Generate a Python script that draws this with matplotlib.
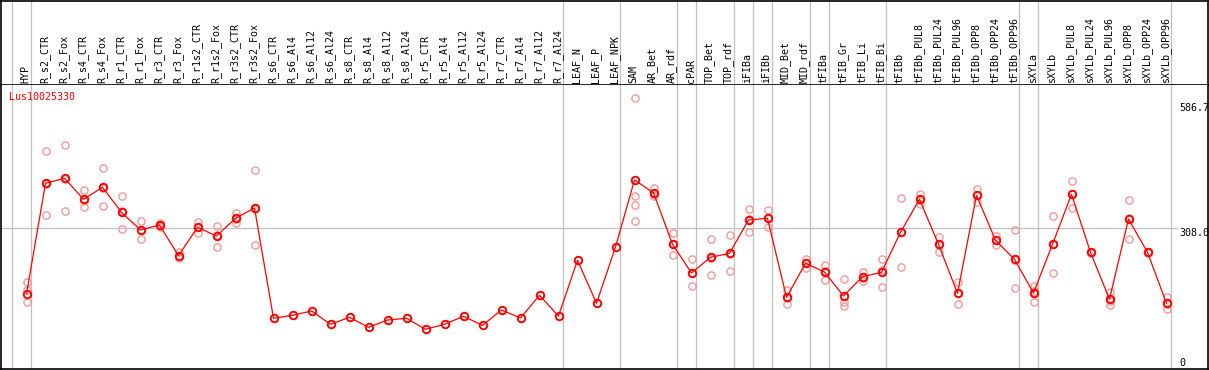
import matplotlib
matplotlib.use("Agg")
import matplotlib.pyplot as plt
import matplotlib.transforms as mtransforms
import numpy as np

categories = ["HYP", "R_s2_CTR", "R_s2_Fox", "R_s4_CTR", "R_s4_Fox", "R_r1_CTR", "R_r1_Fox",
              "R_r3_CTR", "R_r3_Fox", "R_r1s2_CTR", "R_r1s2_Fox", "R_r3s2_CTR", "R_r3s2_Fox",
              "R_s6_CTR", "R_s6_Al4", "R_s6_Al12", "R_s6_Al24", "R_s8_CTR", "R_s8_Al4", "R_s8_Al12",
              "R_s8_Al24", "R_r5_CTR", "R_r5_Al4", "R_r5_Al12", "R_r5_Al24", "R_r7_CTR", "R_r7_Al4",
              "R_r7_Al12", "R_r7_Al24", "LEAF_N", "LEAF_P", "LEAF_NPK", "SAM", "AR_Bet", "AR_rdf",
              "cPAR", "TOP_Bet", "TOP_rdf", "iFIBa", "iFIBb", "MID_Bet", "MID_rdf", "tFIBa",
              "tFIB_Gr", "tFIB_Li", "tFIB_Bi", "tFIBb", "tFIBb_PUL8", "tFIBb_PUL24", "tFIBb_PUL96",
              "tFIBb_OPP8", "tFIBb_OPP24", "tFIBb_OPP96", "sXYLa", "sXYLb", "sXYLb_PUL8",
              "sXYLb_PUL24", "sXYLb_PUL96", "sXYLb_OPP8", "sXYLb_OPP24", "sXYLb_OPP96"]

means = [166.2, 404.0, 414.8, 369.7, 395.5, 341.7, 303.7, 314.4, 248.5, 309.5, 290.8, 328.8, 351.0,
         114.0, 120.4, 129.7, 101.1, 116.1, 94.6, 110.3, 114.0, 90.3, 101.1, 118.3, 98.9, 131.8,
         114.6, 163.4, 118.9, 238.6, 146.2, 267.2, 411.1, 383.8, 273.0, 211.3, 245.0, 253.6,
         325.2, 328.8, 159.1, 232.2, 213.5, 161.9, 203.4, 212.8, 298.8, 369.7, 273.0, 167.7,
         378.3, 281.6, 240.7, 168.3, 273.0, 380.4, 255.8, 154.8, 327.3, 255.8, 146.2]

replicates = [
    [191.3, 174.8, 149.6],
    [473.5, 335.3, 403.0],
    [486.3, 344.5, 413.0],
    [389.7, 352.5, 366.7],
    [436.3, 355.3, 394.6],
    [376.1, 305.2, 344.5],
    [323.0, 283.7, 304.3],
    [318.1, 313.0, 310.0],
    [255.8, 242.9, 247.8],
    [321.5, 296.6, 310.1],
    [312.3, 266.5, 293.6],
    [339.6, 319.4, 327.3],
    [432.6, 271.5, 348.8],
    [], [], [], [], [], [], [], [], [], [], [], [], [], [], [], [],
    [], [],
    [],
    [586.7, 376.1, 356.8, 323.0],
    [394.0, 376.8, 381.0],
    [296.6, 249.3, 273.0],
    [240.7, 182.7, 210.7],
    [284.4, 206.4, 244.2],
    [293.0, 215.0, 252.8],
    [348.8, 298.8, 328.0],
    [346.7, 310.8, 328.8],
    [174.8, 144.0, 158.2],
    [241.4, 222.7, 232.1],
    [228.5, 195.6, 216.3],
    [197.8, 149.0, 140.4],
    [214.1, 194.8, 201.2],
    [240.7, 180.6, 217.1],
    [371.8, 224.8, 299.4],
    [381.1, 358.9, 368.8],
    [289.3, 257.1, 272.1],
    [191.3, 144.0, 167.7],
    [391.8, 364.5, 378.3],
    [291.5, 270.8, 282.2],
    [303.7, 178.4, 239.9],
    [183.4, 149.0, 172.6],
    [333.8, 211.3, 273.6],
    [409.0, 350.3, 381.7],
    [257.1, 253.6, 256.4],
    [169.8, 142.5, 151.8],
    [368.2, 284.4, 329.5],
    [257.1, 254.3, 255.8],
    [159.1, 134.6, 144.7],
]

group_sizes = [1, 28, 3, 3, 1, 2, 1, 1, 2, 1, 3, 7, 1, 7]
gene_name = "Lus10025330"
y_tick_labels = ["586.7", "308.0", "0"]
ref_value = 308.0

W, H = 1209, 370
fig = plt.figure(figsize=(W / 100, H / 100), dpi=100)

# pixel geometry
step = 19.0
x0 = 26.5
def px_to_idx(px):
    return (px - x0) / step

px_per_unit = 0.4654
def py_to_val(py):
    return ref_value + (228 - py) / px_per_unit

left_px, right_px = 1, 1208
head_bot = 85
main_bot = 368.5

xlim = (px_to_idx(left_px), px_to_idx(right_px))

ax_head = fig.add_axes([left_px / W, 1 - head_bot / H, (right_px - left_px) / W, (head_bot - 0.5) / H])
ax = fig.add_axes([left_px / W, 1 - main_bot / H, (right_px - left_px) / W, (main_bot - head_bot) / H])

for a in (ax_head, ax):
    a.set_xlim(*xlim)
    a.set_xticks([])
    a.set_yticks([])
    for s in a.spines.values():
        s.set_color("black")
        s.set_linewidth(1.2)
ax.spines["top"].set_visible(False)
ax_head.set_ylim(0, 1)
ax.set_ylim(py_to_val(main_bot), py_to_val(head_bot))

# separators
ends = np.concatenate([[-1], np.cumsum(group_sizes) - 1])
for e in ends:
    xs = e + 4.2 / step
    for a in (ax_head, ax):
        a.axvline(xs, color="#c0c0c0", lw=0.9, zorder=0)

# reference line
ax.axhline(ref_value, xmin=0, xmax=(1177 - left_px) / (right_px - left_px), color="#c0c0c0", lw=0.9, zorder=0)

idx = np.arange(len(categories))
fontkw = dict(family="DejaVu Sans Mono", fontsize=7.2)

# category labels
trans = mtransforms.blended_transform_factory(ax_head.transData, ax_head.transAxes)
for i, c in enumerate(categories):
    ax_head.text(i - 0.05, (head_bot - 83) / head_bot, c, rotation=90, ha="center", va="bottom",
                 transform=trans, color="black", **fontkw)

# replicates
rx, ry = [], []
for i, reps in enumerate(replicates):
    for r in reps:
        rx.append(i)
        ry.append(r)
ax.plot(rx, ry, linestyle="none", marker="o", markersize=5.2, markerfacecolor="none",
        markeredgecolor="#f09a9a", markeredgewidth=1.0, zorder=2, clip_on=False)

# mean line
ax.plot(idx, means, color="red", lw=0.9, zorder=3)
ax.plot(idx, means, linestyle="none", marker="o", markersize=5.4, markerfacecolor="none",
        markeredgecolor="red", markeredgewidth=1.4, zorder=4)

# title and value labels
fig.text(9 / W, 1 - 92 / H, gene_name, color="red", ha="left", va="top", **fontkw)
for lab, top in zip(y_tick_labels, [103, 228, 358]):
    fig.text(1179 / W, 1 - top / H, lab, color="black", ha="left", va="top", **fontkw)

fig.savefig("out.png", dpi=100)
